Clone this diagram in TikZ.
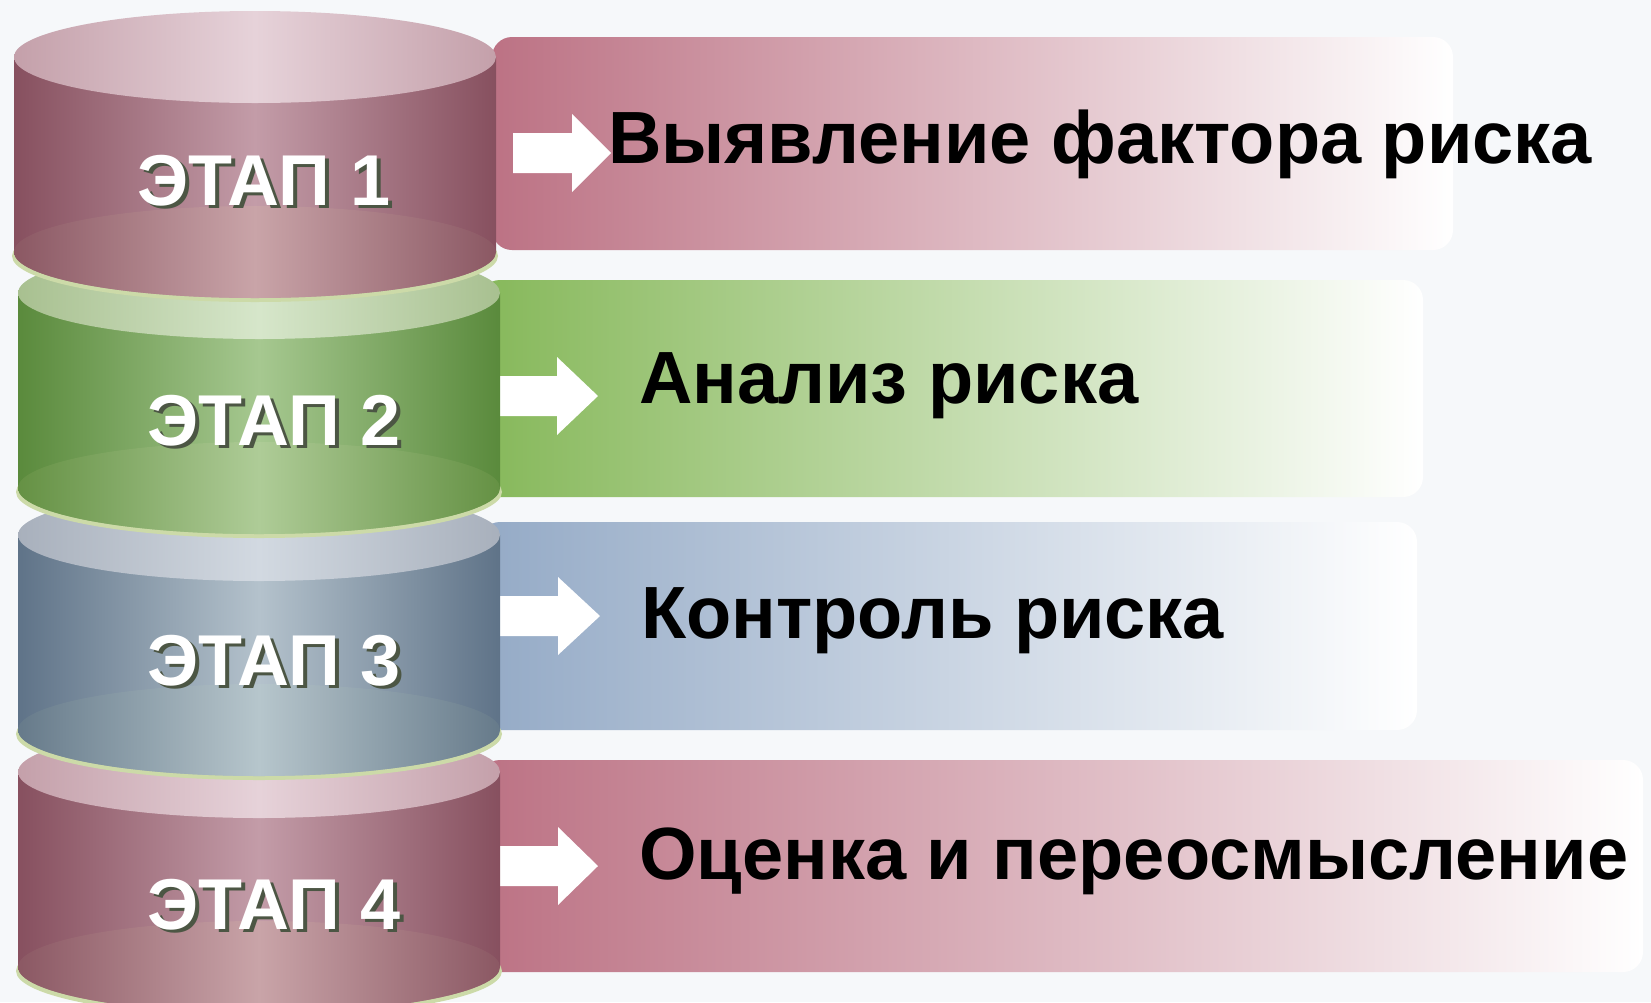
\documentclass[tikz,border=0pt]{standalone}
\usepackage{fontspec}
\setmainfont{Liberation Sans}
\usetikzlibrary{positioning}

% colours of the three kinds of stages
\definecolor{roseA}{HTML}{87505F}
\definecolor{roseB}{HTML}{C39CA8}
\definecolor{roseC}{HTML}{C4A0AA}
\definecolor{roseD}{HTML}{E6D2D9}
\definecolor{roseE}{HTML}{8E5C66}
\definecolor{roseF}{HTML}{CCA8A9}
\definecolor{roseBox}{HTML}{BC7284}
\definecolor{leafA}{HTML}{5A8A3C}
\definecolor{leafB}{HTML}{A6C890}
\definecolor{leafC}{HTML}{A8C090}
\definecolor{leafD}{HTML}{D6E6CA}
\definecolor{leafE}{HTML}{6A9448}
\definecolor{leafF}{HTML}{B2CE9A}
\definecolor{leafBox}{HTML}{86B85A}
\definecolor{slateA}{HTML}{5F7388}
\definecolor{slateB}{HTML}{B4C2CC}
\definecolor{slateC}{HTML}{A8B0BC}
\definecolor{slateD}{HTML}{D2D9E1}
\definecolor{slateE}{HTML}{6A7E8C}
\definecolor{slateF}{HTML}{B8C8CC}
\definecolor{slateBox}{HTML}{94AAC6}
\definecolor{rimgreen}{HTML}{CCDAA8}
\definecolor{shadowgrey}{HTML}{4C5644}
\definecolor{bgcolor}{HTML}{F6F8FA}

\tikzset{
  stagelabel/.style={font=\bfseries\fontsize{72}{72}\selectfont, text=white},
  stageshadow/.style={font=\bfseries\fontsize{72}{72}\selectfont, text=shadowgrey},
  steptext/.style={font=\bfseries\fontsize{74}{74}\selectfont, anchor=base west,
    inner sep=0pt},
}

\begin{document}
\begin{tikzpicture}[x=1pt, y=1pt]
    \useasboundingbox (0,0) rectangle (1651,-1002);
    \fill[bgcolor] (0,0) rectangle (1651,-1002);

    \begin{scope} % Bands behind the stages
        \shade[rounded corners=20, left color=roseBox, right color=white]
            (492,-37) rectangle (1453,-250);
        \shade[rounded corners=20, left color=leafBox, right color=white]
            (480,-280) rectangle (1423,-497);
        \shade[rounded corners=20, left color=slateBox, right color=white]
            (480,-522) rectangle (1417,-730);
        \shade[rounded corners=20, left color=roseBox, right color=white]
            (480,-760) rectangle (1643,-972);
    \end{scope}

    \begin{scope} % White arrows
        \foreach \xs/\xj/\xt/\cy in {513/572/611/153, 498/557/598/396,
                                     498/558/600/616, 498/558/598/866}
            \fill[white] (\xs,-\cy+20) -- (\xj,-\cy+20) -- (\xj,-\cy+39)
                -- (\xt,-\cy) -- (\xj,-\cy-39) -- (\xj,-\cy-20)
                -- (\xs,-\cy-20) -- cycle;
    \end{scope}

    \begin{scope} % Cylinders, lowest first
        \foreach \n/\cx/\yt/\tx/\ty/\th in {4/259/772/274/133/rose,
                3/259/535/274/126/slate, 2/259/293/274/128/leaf,
                1/255/57/264/124/rose} {
            \fill[rimgreen] (\cx,{-\yt-199}) ellipse[x radius=243, y radius=46];
            \shade[left color=\th A, right color=\th A, middle color=\th B]
                ({\cx-241},-\yt) -- ++(0,-195)
                arc[start angle=180, end angle=360, x radius=241, y radius=46]
                -- ++(0,195) -- cycle;
            \shade[left color=\th E, right color=\th E, middle color=\th F,
                opacity=0.7]
                (\cx,{-\yt-195}) ellipse[x radius=241, y radius=46];
            \shade[left color=\th C, right color=\th C, middle color=\th D]
                (\cx,-\yt) ellipse[x radius=241, y radius=46];
            \node[stageshadow] (stage\n-sh) at ({\tx+4},{-\yt-\ty-3}) {ЭТАП \n};
            \node[stagelabel] (stage\n) at (\tx,{-\yt-\ty}) {ЭТАП \n};
        }
    \end{scope}

    \begin{scope} % Texts of the steps
        \node[steptext] (step1) at (608,-163) {Выявление фактора риска};
        \node[steptext] (step2) at (639,-403) {Анализ риска};
        \node[steptext] (step3) at (641,-638) {Контроль риска};
        \node[steptext] (step4) at (639,-879) {Оценка и переосмысление};
    \end{scope}
\end{tikzpicture}
\end{document}
